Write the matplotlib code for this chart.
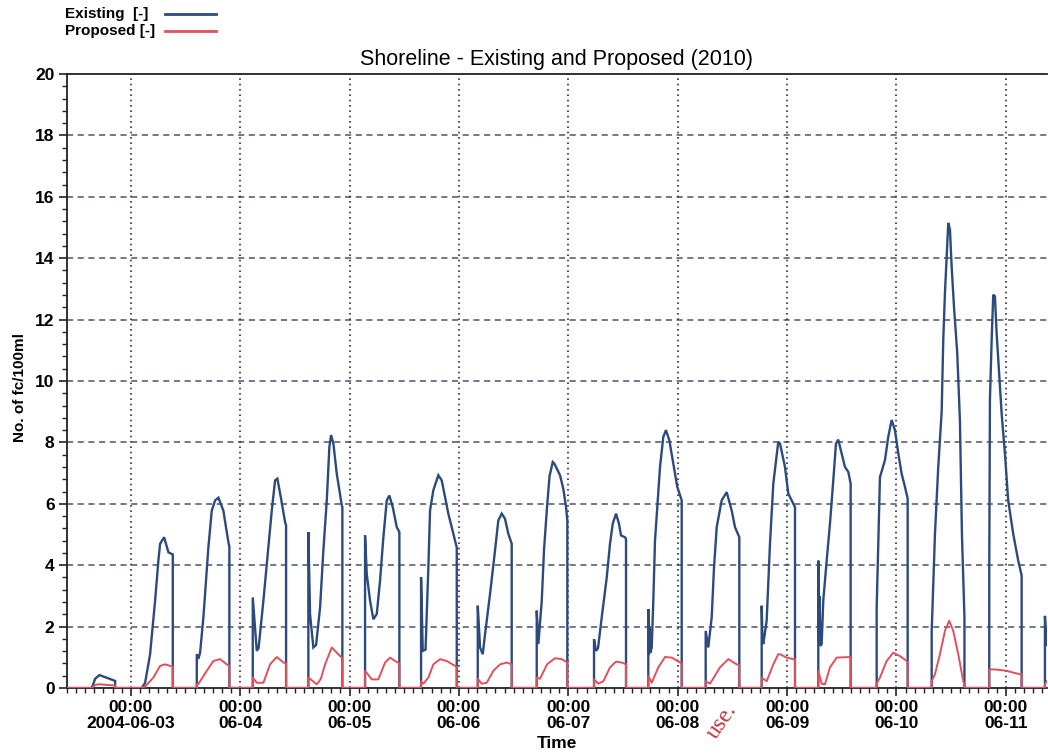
import matplotlib
matplotlib.use("Agg")
import matplotlib.pyplot as plt
import matplotlib.dates as mdates
from matplotlib.ticker import MultipleLocator
from matplotlib.lines import Line2D
import pandas as pd

# ---------------- data (hours since 2004-06-02 00:00) ----------------
base_time = "2004-06-02 00:00"

existing_hours = [
    10.0, 15.44, 16.17, 17.11, 18.8, 20.56, 20.56,
    26.41, 27.14, 28.23, 29.33, 30.05, 30.43, 31.31, 32.25, 33.21, 33.21,
    38.48, 38.48, 38.83, 39.2, 39.93, 41.02, 41.77, 42.49, 43.22, 44.31, 45.41, 45.63, 45.63,
    50.76, 50.76, 51.64, 52.04, 53.09, 54.19, 54.93, 55.66, 56.16, 56.91, 57.85, 58.07, 58.07,
    62.96, 62.96, 63.33, 64.06, 64.65, 65.53, 66.25, 67.0, 67.57, 67.94, 68.45, 69.19, 70.29, 70.42, 70.42,
    75.4, 75.4, 75.77, 76.5, 77.22, 77.97, 78.69, 79.42, 80.16, 80.73, 81.48, 82.36, 82.93, 82.93,
    87.69, 87.69, 88.06, 88.67, 89.29, 89.66, 90.38, 91.48, 92.23, 93.67, 95.15, 95.52, 95.52,
    100.13, 100.13, 100.63, 101.22, 101.73, 102.82, 103.92, 104.64, 105.39, 106.11, 106.84, 107.58, 107.58,
    113.07, 113.07, 113.42, 114.17, 114.67, 115.33, 115.88, 116.58, 116.97, 118.18, 118.9, 119.5, 119.78, 119.78,
    125.64, 125.64, 126.08, 126.52, 127.33, 128.43, 129.15, 129.74, 130.47, 131.12, 131.56, 132.44, 132.66, 132.66,
    137.55, 137.55, 137.7, 137.85, 138.0, 138.3, 138.65, 139.02, 139.53, 140.12, 140.84, 141.43, 142.16, 143.04, 143.91, 144.88, 144.88,
    150.14, 150.14, 150.71, 151.46, 151.97, 152.56, 153.65, 154.75, 155.85, 156.57, 157.52, 157.52,
    162.43, 162.43, 162.6, 162.78, 163.52, 164.25, 164.98, 166.07, 166.45, 167.54, 168.27, 169.74, 169.74,
    174.85, 174.85, 175.0, 175.15, 175.3, 175.59, 175.94, 176.69, 177.41, 178.14, 178.73, 179.23, 179.98, 180.7, 181.43, 181.95, 181.95,
    187.66, 187.66, 187.88, 188.38, 189.48, 190.2, 190.95, 191.67, 192.4, 193.14, 193.87, 194.46, 194.46,
    199.73, 199.73, 199.9, 200.45, 201.17, 201.92, 202.27, 202.64, 203.01, 203.37, 203.74, 204.11, 204.62, 205.34, 205.93, 206.37, 206.92, 206.92,
    212.36, 212.36, 212.51, 212.89, 213.24, 213.61, 213.98, 214.55, 215.08, 215.8, 216.52, 217.62, 218.72, 219.47, 219.47,
    224.58, 224.58, 224.96,
]
existing_values = [
    0.0, 0.0, 0.3, 0.42, 0.33, 0.23, 0.0,
    0.0, 0.17, 1.1, 2.84, 4.15, 4.7, 4.91, 4.42, 4.35, 0.0,
    0.0, 1.1, 0.95, 1.15, 2.3, 4.58, 5.78, 6.11, 6.2, 5.78, 4.75, 4.6, 0.0,
    0.0, 2.95, 1.21, 1.3, 2.84, 4.58, 5.78, 6.76, 6.82, 6.22, 5.4, 5.3, 0.0,
    0.0, 5.08, 2.4, 1.32, 1.4, 2.62, 4.48, 6.11, 7.85, 8.24, 7.96, 6.98, 5.95, 5.9, 0.0,
    0.0, 4.97, 3.72, 2.84, 2.24, 2.41, 3.5, 4.91, 6.11, 6.27, 5.89, 5.24, 5.08, 0.0,
    0.0, 3.6, 1.21, 1.25, 3.93, 5.78, 6.44, 6.93, 6.76, 5.68, 4.8, 4.58, 0.0,
    0.0, 2.68, 1.32, 1.1, 1.75, 3.06, 4.48, 5.46, 5.68, 5.51, 5.02, 4.7, 0.0,
    0.0, 2.52, 1.43, 2.84, 4.5, 5.9, 6.9, 7.36, 7.3, 6.93, 6.49, 5.89, 5.46, 0.0,
    0.0, 1.59, 1.21, 1.3, 2.3, 3.6, 4.7, 5.35, 5.68, 5.35, 4.97, 4.91, 4.85, 0.0,
    0.0, 2.57, 1.1, 2.0, 1.15, 1.32, 2.84, 4.8, 5.89, 7.2, 8.18, 8.4, 8.07, 7.31, 6.55, 6.11, 0.0,
    0.0, 1.86, 1.32, 2.3, 3.93, 5.24, 6.11, 6.38, 5.78, 5.24, 4.91, 0.0,
    0.0, 2.68, 1.6, 1.43, 2.19, 4.7, 6.66, 8.02, 7.96, 7.2, 6.33, 5.89, 0.0,
    0.0, 4.15, 1.5, 3.0, 1.37, 1.43, 2.84, 4.15, 5.35, 6.76, 7.96, 8.09, 7.64, 7.2, 7.04, 6.66, 0.0,
    0.0, 2.62, 3.93, 6.87, 7.42, 8.18, 8.73, 8.4, 7.64, 6.98, 6.55, 6.17, 0.0,
    0.0, 1.86, 2.58, 5.02, 7.2, 9.0, 11.34, 12.87, 14.06, 15.15, 14.93, 13.73, 12.43, 10.9, 8.7, 5.0, 2.3, 0.0,
    0.0, 3.72, 9.38, 11.34, 12.81, 12.76, 11.56, 10.2, 8.94, 7.64, 6.11, 5.02, 4.15, 3.66, 0.0,
    0.0, 2.35, 1.4,
]

proposed_hours = [
    10.0, 15.44, 16.17, 17.11, 18.8, 20.56, 20.56,
    26.41, 27.14, 28.96, 30.43, 31.52, 32.62, 33.21, 33.21,
    38.48, 38.48, 38.83, 40.67, 42.12, 43.59, 45.06, 45.63, 45.63,
    50.76, 50.76, 51.64, 53.09, 54.56, 56.03, 57.48, 58.07, 58.07,
    62.96, 62.96, 64.8, 65.7, 66.63, 68.09, 69.19, 70.29, 70.42, 70.42,
    75.4, 75.4, 76.87, 78.32, 79.79, 80.89, 81.98, 82.93, 82.93,
    87.69, 87.69, 88.19, 89.29, 90.38, 91.86, 93.32, 95.15, 95.52, 95.52,
    100.13, 100.13, 101.0, 102.1, 103.55, 105.02, 106.49, 107.58, 107.58,
    113.07, 113.07, 113.79, 115.33, 117.08, 118.55, 119.78, 119.78,
    125.64, 125.64, 126.58, 127.68, 129.15, 130.47, 131.72, 132.66, 132.66,
    137.55, 137.55, 138.3, 139.74, 141.22, 142.68, 144.51, 144.88, 144.88,
    150.14, 150.14, 151.09, 153.27, 155.1, 156.94, 157.52, 157.52,
    162.43, 162.43, 163.52, 164.98, 166.07, 166.45, 167.91, 169.36, 169.74, 169.74,
    174.85, 174.85, 175.59, 176.32, 177.41, 178.88, 181.8, 181.95, 181.95,
    187.66, 187.66, 188.38, 189.85, 191.3, 192.77, 194.24, 194.46, 194.46,
    199.73, 199.73, 200.45, 201.54, 202.64, 203.58, 204.46, 205.56, 206.66, 206.92, 206.92,
    212.36, 212.36, 213.98, 216.18, 217.62, 219.09, 219.47, 219.47,
    224.58, 224.58, 224.96,
]
proposed_values = [
    0.0, 0.0, 0.1, 0.12, 0.1, 0.08, 0.0,
    0.0, 0.05, 0.34, 0.72, 0.77, 0.72, 0.7, 0.0,
    0.0, 0.13, 0.13, 0.56, 0.88, 0.94, 0.77, 0.72, 0.0,
    0.0, 0.34, 0.17, 0.17, 0.77, 1.01, 0.83, 0.8, 0.0,
    0.0, 0.34, 0.12, 0.3, 0.77, 1.32, 1.15, 0.99, 0.97, 0.0,
    0.0, 0.56, 0.28, 0.28, 0.83, 0.99, 0.88, 0.8, 0.0,
    0.0, 0.22, 0.14, 0.34, 0.77, 0.94, 0.88, 0.72, 0.7, 0.0,
    0.0, 0.3, 0.14, 0.17, 0.56, 0.77, 0.83, 0.77, 0.0,
    0.0, 0.34, 0.3, 0.77, 0.97, 0.94, 0.83, 0.0,
    0.0, 0.28, 0.14, 0.22, 0.67, 0.86, 0.83, 0.77, 0.0,
    0.0, 0.39, 0.17, 0.67, 1.01, 0.99, 0.83, 0.8, 0.0,
    0.0, 0.22, 0.14, 0.67, 0.94, 0.77, 0.75, 0.0,
    0.0, 0.34, 0.22, 0.77, 1.1, 1.1, 0.99, 0.94, 0.94, 0.0,
    0.0, 0.56, 0.14, 0.12, 0.67, 0.99, 1.01, 1.01, 0.0,
    0.0, 0.15, 0.34, 0.88, 1.15, 1.04, 0.88, 0.85, 0.0,
    0.0, 0.22, 0.45, 1.1, 1.86, 2.19, 1.86, 1.1, 0.22, 0.1, 0.0,
    0.0, 0.61, 0.6, 0.56, 0.5, 0.45, 0.45, 0.0,
    0.0, 0.12, 0.22,
]

day_ticks = ["2004-06-03", "2004-06-04", "2004-06-05", "2004-06-06", "2004-06-07",
             "2004-06-08", "2004-06-09", "2004-06-10", "2004-06-11"]
tick_labels = ["00:00\n2004-06-03", "00:00\n06-04", "00:00\n06-05", "00:00\n06-06",
               "00:00\n06-07", "00:00\n06-08", "00:00\n06-09", "00:00\n06-10", "00:00\n06-11"]
x_start = "2004-06-02 10:00"
x_end = "2004-06-11 09:02"

title = "Shoreline - Existing and Proposed (2010)"
legend_labels = ["Existing  [-]", "Proposed [-]"]

# ---------------- drawing ----------------
plt.rcParams['font.family'] = ['Liberation Sans', 'DejaVu Sans']

t0 = pd.Timestamp(base_time)
ex_t = t0 + pd.to_timedelta(existing_hours, unit="h")
pr_t = t0 + pd.to_timedelta(proposed_hours, unit="h")

BLUE = "#2c4a7c"
RED = "#e0505c"

fig = plt.figure(figsize=(10.48, 7.54), dpi=100)
ax = fig.add_axes([67/1048, 1-688/754, (1047-67)/1048, (688-74)/754])

ax.plot(ex_t, existing_values, color=BLUE, lw=1.7, zorder=3, solid_joinstyle="miter")
ax.plot(pr_t, proposed_values, color=RED, lw=1.4, zorder=4)

ax.set_ylim(0, 20)
ax.set_xlim(pd.Timestamp(x_start), pd.Timestamp(x_end))
ax.yaxis.set_major_locator(MultipleLocator(2))
ax.yaxis.set_minor_locator(MultipleLocator(0.4))

ticks = [pd.Timestamp(d) for d in day_ticks]
ax.set_xticks(ticks)
ax.set_xticklabels(tick_labels, fontweight="bold", fontsize=12.5, linespacing=1.05)
ax.xaxis.set_minor_locator(mdates.HourLocator(byhour=range(0, 24, 2)))

for lbl in ax.get_yticklabels():
    lbl.set_fontweight("bold")
    lbl.set_fontsize(12.5)

ax.tick_params(axis="both", which="major", direction="out", length=6, width=1.2, color="#222222", pad=3)
ax.tick_params(axis="both", which="minor", direction="out", length=3.5, width=1.0, color="#222222")

# grid
for yv in range(2, 20, 2):
    ax.axhline(yv, color="#4a5568", lw=1.1, ls=(0, (4, 3)), zorder=1)
for tk in ticks:
    ax.axvline(tk, color="#2e3440", lw=1.2, ls=(0, (1, 2.2)), zorder=1)

for s in ["left", "bottom", "top"]:
    ax.spines[s].set_color("#222222")
    ax.spines[s].set_linewidth(1.3)
ax.spines["right"].set_visible(False)

# texts
fig.text(557/1048, 1-60/754, title, ha="center", va="center", fontsize=15.5)
fig.text(20/1048, 1-388/754, "No. of fc/100ml", rotation=90, ha="center", va="center",
         fontsize=11, fontweight="bold")
fig.text(557/1048, 1-744/754, "Time", ha="center", va="center", fontsize=12.5, fontweight="bold")

# legend (custom, top-left)
fig.text(65/1048, 1-14/754, legend_labels[0], ha="left", va="center", fontsize=11, fontweight="bold")
fig.text(65/1048, 1-31/754, legend_labels[1], ha="left", va="center", fontsize=11, fontweight="bold")
fig.add_artist(Line2D([165/1048, 216/1048], [1-14/754, 1-14/754], color=BLUE, lw=2))
fig.add_artist(Line2D([165/1048, 216/1048], [1-31/754, 1-31/754], color=RED, lw=2))

# watermark fragment
fig.text(722/1048, 1-722/754, "use.", rotation=55, ha="center", va="center", color="#c8303a",
         fontsize=17, family=["Liberation Serif", "DejaVu Serif"])

fig.savefig("out.png", dpi=100)
